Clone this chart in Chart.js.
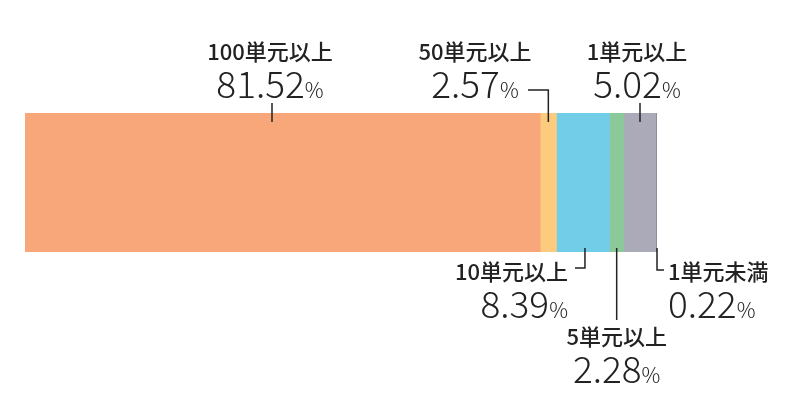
<!DOCTYPE html>
<html><head><meta charset="utf-8">
<script src="https://cdn.jsdelivr.net/npm/chart.js@4"></script>
<style>html,body{margin:0;background:#fff}#w{width:800px;height:400px}</style>
</head><body><div id="w"><canvas id="c"></canvas></div>
<script>
const categories = ["100単元以上","50単元以上","10単元以上","5単元以上","1単元以上","1単元未満"];
const values = [81.52, 2.57, 8.39, 2.28, 5.02, 0.22];
const colors = ["#F8A77A","#FDCB7E","#72CDE8","#8CC99A","#ABAAB8","#8E8D9C"];
const valueLabels = ["81.52","2.57","8.39","2.28","5.02","0.22"];

const F = '"Noto Sans CJK JP","Noto Sans",sans-serif';
const labelPlugin = {
  id:'lbl',
  afterDatasetsDraw(chart){
    const ctx = chart.ctx, xs = chart.scales.x;
    const meta0 = chart.getDatasetMeta(0).data[0];
    const bot = meta0.y + meta0.height/2;
    const cum = []; let s = 0; values.forEach(v=>{cum.push(s); s+=v;});
    const px = i => xs.getPixelForValue(cum[i] + values[i]/2);
    const end = i => xs.getPixelForValue(cum[i] + values[i]);
    ctx.save();
    ctx.strokeStyle = '#222'; ctx.lineWidth = 1.5;
    function line(pts){ctx.beginPath();ctx.moveTo(pts[0][0],pts[0][1]);for(let k=1;k<pts.length;k++)ctx.lineTo(pts[k][0],pts[k][1]);ctx.stroke();}
    function label(i, x, y, align){
      ctx.fillStyle = '#222'; ctx.textBaseline = 'alphabetic';
      ctx.font = '500 22px '+F; ctx.textAlign = align;
      ctx.fillText(categories[i], x, y);
      ctx.font = '300 37px '+F; const big = ctx.measureText(valueLabels[i]).width;
      ctx.font = '300 21px '+F; const pc = ctx.measureText('%').width;
      const w = big + pc;
      let sx = align==='center' ? x - w/2 : align==='right' ? x - w : x;
      ctx.textAlign = 'left';
      ctx.font = '300 37px '+F; ctx.fillText(valueLabels[i], sx, y+38);
      ctx.font = '300 21px '+F; ctx.fillText('%', sx+big, y+38);
    }
    label(0, 270, 60, 'center'); line([[272,103],[272,122]]);
    label(1, 475, 60, 'center'); const x1 = px(1); line([[528,90],[x1,90],[x1,122]]);
    label(4, 637, 60, 'center'); line([[640,103],[640,122]]);
    const x2 = px(2)+2; label(2, 568, 280, 'right'); line([[x2,bot-4],[x2,268],[575,268]]);
    const x3 = px(3); label(3, x3, 345, 'center'); line([[x3,bot-4],[x3,320]]);
    const x5 = end(5); label(5, 668, 280, 'left'); line([[x5,bot-4],[x5,270],[664,270]]);
    ctx.restore();
  }
};

new Chart(document.getElementById('c'), {
  type:'bar',
  data:{ labels:[''], datasets: values.map((v,i)=>({label:categories[i], data:[v], backgroundColor:colors[i], borderWidth:0, barPercentage:1, categoryPercentage:1})) },
  options:{
    indexAxis:'y', responsive:true, maintainAspectRatio:false, animation:false,
    layout:{padding:{left:25, right:143, top:113, bottom:148}},
    plugins:{legend:{display:false}, tooltip:{enabled:false}},
    scales:{
      x:{stacked:true, min:0, max:100, display:false},
      y:{stacked:true, display:false}
    }
  },
  plugins:[labelPlugin]
});
</script></body></html>
